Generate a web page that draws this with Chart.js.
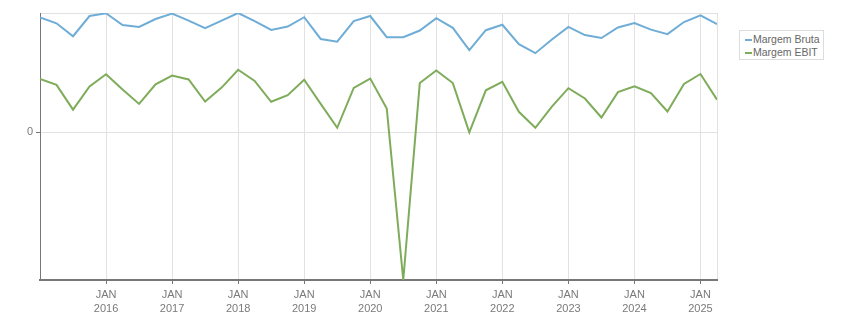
<!DOCTYPE html>
<html>
<head>
<meta charset="utf-8">
<script src="https://cdn.jsdelivr.net/npm/chart.js@4/dist/chart.umd.min.js"></script>
<style>
  html, body { margin: 0; padding: 0; background: #fff; }
  #wrap { position: relative; width: 851px; height: 313px; }
  #legend {
    position: absolute; left: 739px; top: 30px; width: 83px; height: 28px;
    border: 1px solid #dcdcdc; background: #fff;
    font: 10.5px "Liberation Sans", Arial, sans-serif; color: #666;
    box-sizing: content-box;
  }
  #legend div { height: 13px; line-height: 13px; white-space: nowrap; padding-left: 5px; }
  #legend div:first-child { margin-top: 2px; }
  #legend span { display: inline-block; width: 7px; height: 2px; vertical-align: middle; margin-right: 1px; }
</style>
</head>
<body>
<div id="wrap">
  <canvas id="chart" width="851" height="313"></canvas>
  <div id="legend"></div>
</div>
<script>
// quarterly periods
const quarters = [
  '2015-01', '2015-04', '2015-07', '2015-10',
  '2016-01', '2016-04', '2016-07', '2016-10',
  '2017-01', '2017-04', '2017-07', '2017-10',
  '2018-01', '2018-04', '2018-07', '2018-10',
  '2019-01', '2019-04', '2019-07', '2019-10',
  '2020-01', '2020-04', '2020-07', '2020-10',
  '2021-01', '2021-04', '2021-07', '2021-10',
  '2022-01', '2022-04', '2022-07', '2022-10',
  '2023-01', '2023-04', '2023-07', '2023-10',
  '2024-01', '2024-04', '2024-07', '2024-10',
  '2025-01', '2025-04'
];

// margins in %
const margemBruta = [
  37.9, 36.0, 31.7, 38.4, 39.3, 35.4, 34.8, 37.4, 39.2, 36.9, 34.4, 36.9,
  39.4, 36.7, 33.8, 34.9, 38.0, 30.8, 29.9, 36.7, 38.4, 31.4, 31.4, 33.6,
  37.7, 34.5, 27.1, 33.7, 35.5, 29.1, 26.1, 30.6, 34.8, 32.1, 31.1, 34.6,
  36.1, 33.9, 32.4, 36.4, 38.6, 35.7
];
const margemEbit = [
  17.6, 15.6, 7.4, 15.1, 19.1, 14.1, 9.3, 15.8, 18.7, 17.4, 10.1, 14.7,
  20.6, 16.9, 10.0, 12.2, 17.3, 9.3, 1.4, 14.6, 17.7, 7.8, -49.0, 16.2,
  20.4, 16.2, -0.1, 13.8, 16.6, 6.7, 1.4, 8.4, 14.5, 11.1, 4.8, 13.2,
  15.1, 12.9, 6.8, 15.9, 19.2, 10.7
];

const yearTicks = [2016, 2017, 2018, 2019, 2020, 2021, 2022, 2023, 2024, 2025];
const seriesNames = ['Margem Bruta', 'Margem EBIT'];
const seriesColors = ['#6fadd6', '#7fac5b'];

function toYear(q) {
  var parts = q.split('-');
  return Number(parts[0]) + (Number(parts[1]) - 1) / 12;
}

function toPoints(values) {
  return values.map(function (v, i) {
    return { x: toYear(quarters[i]), y: v };
  });
}

const xMin = toYear(quarters[0]);
const xMax = toYear(quarters[quarters.length - 1]);
const yMin = Math.min.apply(null, margemEbit.concat(margemBruta));
const yMax = Math.max.apply(null, margemEbit.concat(margemBruta));

const tickFont = { family: '"Liberation Sans", Arial, sans-serif', size: 11, lineHeight: 1.25 };

new Chart(document.getElementById('chart'), {
  type: 'line',
  data: {
    datasets: [
      { label: seriesNames[0], data: toPoints(margemBruta), borderColor: seriesColors[0], borderWidth: 2, pointRadius: 0, tension: 0, fill: false },
      { label: seriesNames[1], data: toPoints(margemEbit), borderColor: seriesColors[1], borderWidth: 2, pointRadius: 0, tension: 0, fill: false }
    ]
  },
  options: {
    responsive: false,
    animation: false,
    events: [],
    layout: { padding: { left: 0, top: 13, right: 134, bottom: 0 } },
    plugins: {
      legend: { display: false },
      tooltip: { enabled: false }
    },
    scales: {
      x: {
        type: 'linear',
        min: xMin,
        max: xMax,
        afterBuildTicks: function (scale) {
          scale.ticks = yearTicks.concat([xMax]).map(function (v) { return { value: v }; });
        },
        afterFit: function (scale) { scale.height = 33; },
        ticks: {
          autoSkip: false,
          maxRotation: 0,
          padding: 4,
          color: '#7a7a7a',
          font: tickFont,
          callback: function (value) {
            return yearTicks.indexOf(value) >= 0 ? ['JAN', String(value)] : '';
          }
        },
        grid: {
          color: '#e2e2e2',
          lineWidth: 1,
          tickLength: 4,
          tickColor: function (ctx) {
            return ctx.tick && yearTicks.indexOf(ctx.tick.value) >= 0 ? '#777' : 'rgba(0,0,0,0)';
          }
        },
        border: { color: '#777', width: 2 }
      },
      y: {
        min: yMin,
        max: yMax,
        afterBuildTicks: function (scale) {
          scale.ticks = [{ value: 0 }, { value: yMax }];
        },
        afterFit: function (scale) { scale.width = 40; },
        ticks: {
          padding: 3,
          color: '#7a7a7a',
          font: tickFont,
          callback: function (value) { return value === 0 ? '0' : ''; }
        },
        grid: {
          color: '#e2e2e2',
          lineWidth: 1,
          tickLength: 4,
          tickColor: function (ctx) {
            return ctx.tick && ctx.tick.value === 0 ? '#777' : 'rgba(0,0,0,0)';
          }
        },
        border: { color: '#777', width: 1 }
      }
    }
  }
});

// legend box at the right
var legend = document.getElementById('legend');
seriesNames.forEach(function (name, i) {
  var row = document.createElement('div');
  var mark = document.createElement('span');
  mark.style.background = seriesColors[i];
  row.appendChild(mark);
  row.appendChild(document.createTextNode(name));
  legend.appendChild(row);
});
</script>
</body>
</html>
